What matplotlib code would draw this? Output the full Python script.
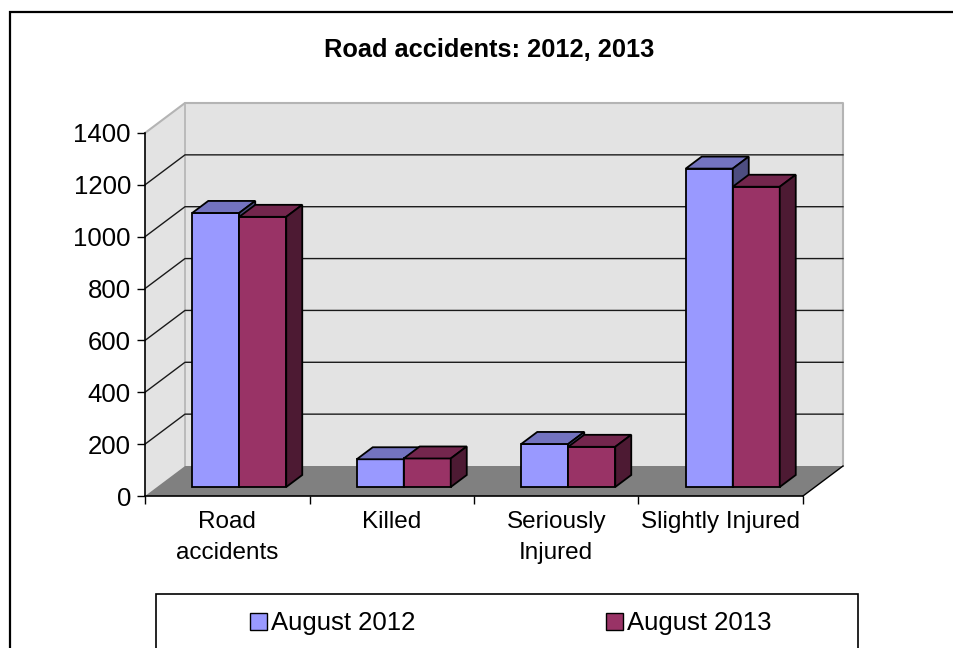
import matplotlib
matplotlib.use("Agg")
import matplotlib.pyplot as plt
from matplotlib.patches import Polygon, Rectangle

categories = ["Road\naccidents", "Killed", "Seriously\nInjured", "Slightly Injured"]
series_names = ["August 2012", "August 2013"]
august_2012 = [1057, 107, 166, 1228]
august_2013 = [1042, 110, 155, 1158]
y_ticks = [0, 200, 400, 600, 800, 1000, 1200, 1400]

FRONT = ["#9999FF", "#993366"]
TOP = ["#7373BF", "#73264D"]
SIDE = ["#4D4D80", "#4D1A33"]
WALL = "#E3E3E3"
FLOOR = "#808080"
WALL_EDGE = "#B4B4B4"

W, H = 954, 648
plt.rcParams["font.family"] = ["Liberation Sans", "DejaVu Sans"]

fig = plt.figure(figsize=(W / 100, H / 100), dpi=100)


def fx(x):
    return x / W


def fy(y):
    return 1 - y / H


# plot area is the front plane of the 3-D box (pixel positions of the picture)
ax = fig.add_axes([fx(145), fy(496), fx(803) - fx(145), fy(133) - fy(496)])
n = len(categories)
ymax = y_ticks[-1]
ax.set_xlim(0, n)
ax.set_ylim(0, ymax)
ax.patch.set_visible(False)

# depth of the box: 40 px to the right, 30 px up
dx = 40 / (803 - 145) * n
dy = 30 / (496 - 133) * ymax

# walls and floor
ax.add_patch(Polygon([(0, 0), (0, ymax), (dx, ymax + dy), (dx, dy)],
                     fc=WALL, ec="none", clip_on=False, zorder=1))
ax.add_patch(Polygon([(dx, dy), (n + dx, dy), (n + dx, ymax + dy), (dx, ymax + dy)],
                     fc=WALL, ec="none", clip_on=False, zorder=1))
ax.plot([0, dx, n + dx, n + dx], [ymax, ymax + dy, ymax + dy, dy],
        color=WALL_EDGE, lw=1.5, clip_on=False, zorder=1.2)
ax.plot([dx, dx], [dy, ymax + dy], color=WALL_EDGE, lw=1.2, clip_on=False, zorder=1.2)

for v in y_ticks[1:-1]:
    ax.plot([0, dx, n + dx], [v, v + dy, v + dy], color="#1A1A1A", lw=1.0,
            clip_on=False, zorder=1.3)

ax.add_patch(Polygon([(0, 0), (n, 0), (n + dx, dy), (dx, dy)],
                     fc=FLOOR, ec="none", clip_on=False, zorder=1.5))
ax.plot([n, n + dx], [0, dy], color="black", lw=1.0, clip_on=False, zorder=1.6)

# bars: Excel defaults, gap width 150 %, bars sit between depth 0.3 and 0.7
bar_w = 1 / 3.5
gap = 0.75 / 3.5
ox, oy = 0.3 * dx, 0.3 * dy
bx, by = 0.4 * dx, 0.4 * dy

for j, values in enumerate([august_2012, august_2013]):
    for i, v in enumerate(values):
        left = i + gap + j * bar_w + ox
        right = left + bar_w
        z = 3 + j
        kw = dict(ec="black", lw=1.3, clip_on=False, zorder=z, joinstyle="miter")
        ax.add_patch(Polygon([(left, oy), (right, oy), (right, v + oy), (left, v + oy)],
                             fc=FRONT[j], **kw))
        ax.add_patch(Polygon([(left, v + oy), (right, v + oy),
                              (right + bx, v + oy + by), (left + bx, v + oy + by)],
                             fc=TOP[j], **kw))
        ax.add_patch(Polygon([(right, oy), (right + bx, oy + by),
                              (right + bx, v + oy + by), (right, v + oy)],
                             fc=SIDE[j], **kw))

# axes
for side in ["top", "right"]:
    ax.spines[side].set_visible(False)
for side in ["left", "bottom"]:
    ax.spines[side].set_linewidth(1.2)
    ax.spines[side].set_zorder(2)

ax.set_yticks(y_ticks)
ax.tick_params(axis="y", length=5.8, width=1, pad=4.3, labelsize=18.5)
ax.set_xticks(range(n + 1))
ax.set_xticklabels([])
ax.set_xticks([i + 0.5 for i in range(n)], minor=True)
ax.set_xticklabels(categories, minor=True)
ax.tick_params(axis="x", which="major", length=5.8, width=1)
ax.tick_params(axis="x", which="minor", length=0, pad=11, labelsize=17.5)
for lbl in ax.get_xticklabels(minor=True):
    lbl.set_linespacing(1.5)

# title
fig.text(fx(489.5), fy(56.7), "Road accidents: 2012, 2013", ha="center",
         va="baseline", fontsize=18.3, fontweight="bold")

# outer chart border (runs past the right and bottom edges)
fig.add_artist(Rectangle((fx(10), -0.2), 1.2, fy(12) + 0.2, fill=False,
                         ec="black", lw=1.6, transform=fig.transFigure))

# legend box
fig.add_artist(Rectangle((fx(156), fy(700)), fx(858) - fx(156), fy(594) - fy(700),
                         fill=False, ec="black", lw=1.2, transform=fig.transFigure))
legend_x = [250, 606]
for name, color, x0 in zip(series_names, FRONT, legend_x):
    fig.add_artist(Rectangle((fx(x0), fy(630)), fx(17), 17 / H, fc=color, ec="black",
                             lw=1.0, transform=fig.transFigure))
    fig.text(fx(x0 + 21), fy(630), name, ha="left", va="baseline", fontsize=18.5)

fig.savefig("out.png", dpi=100)
